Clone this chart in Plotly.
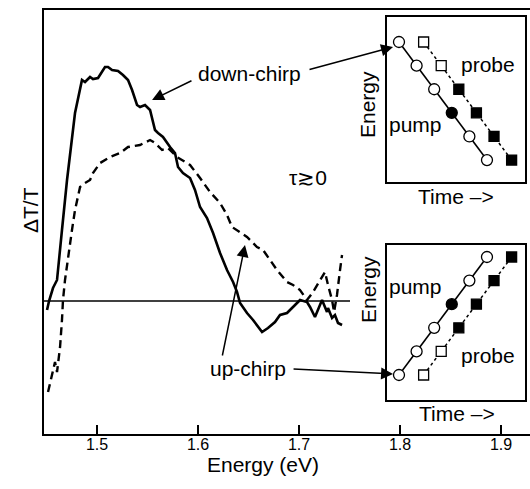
import plotly.graph_objects as go

# ---------------- data ----------------
down_E = [1.4505, 1.4525, 1.4564, 1.4604, 1.4653, 1.4703, 1.4782, 1.4851, 1.4881, 1.4931,
          1.4960, 1.5010, 1.5079, 1.5109, 1.5149, 1.5208, 1.5257, 1.5307, 1.5347, 1.5396,
          1.5426, 1.5475, 1.5525, 1.5574, 1.5604, 1.5653, 1.5723, 1.5772, 1.5802, 1.5851,
          1.5921, 1.5970, 1.6020, 1.6089, 1.6149, 1.6218, 1.6287, 1.6347, 1.6386, 1.6416,
          1.6485, 1.6545, 1.6634, 1.6693, 1.6762, 1.6812, 1.6881, 1.6941, 1.7010, 1.7079,
          1.7109, 1.7158, 1.7188, 1.7228, 1.7277, 1.7287, 1.7327, 1.7356, 1.7386, 1.7426]
down_dT = [-0.09, 0.00, 0.13, 0.21, 0.71, 1.21, 1.88, 2.21, 2.19, 2.24,
           2.22, 2.23, 2.34, 2.34, 2.31, 2.30, 2.26, 2.21, 2.11, 1.96,
           1.94, 1.96, 1.91, 1.71, 1.68, 1.64, 1.54, 1.48, 1.34, 1.28,
           1.23, 1.11, 0.94, 0.83, 0.68, 0.48, 0.31, 0.19, 0.09, -0.02,
           -0.12, -0.19, -0.31, -0.27, -0.21, -0.14, -0.12, -0.06, 0.01, -0.01,
           -0.06, -0.16, -0.09, 0.01, -0.11, -0.07, -0.17, -0.14, -0.22, -0.24]

up_E = [1.4515, 1.4535, 1.4564, 1.4584, 1.4604, 1.4634, 1.4653, 1.4663, 1.4683, 1.4713,
        1.4752, 1.4782, 1.4832, 1.4881, 1.4931, 1.4960, 1.5030, 1.5129, 1.5228, 1.5307,
        1.5426, 1.5525, 1.5574, 1.5644, 1.5703, 1.5792, 1.5921, 1.6020, 1.6119, 1.6218,
        1.6287, 1.6337, 1.6416, 1.6485, 1.6584, 1.6644, 1.6713, 1.6782, 1.6881, 1.6941,
        1.7010, 1.7079, 1.7139, 1.7208, 1.7257, 1.7287, 1.7327, 1.7347, 1.7376, 1.7406,
        1.7426]
up_dT = [-0.91, -0.82, -0.69, -0.61, -0.71, -0.46, -0.19, 0.01, 0.21, 0.44,
         0.71, 0.91, 1.14, 1.18, 1.21, 1.28, 1.38, 1.44, 1.48, 1.54,
         1.56, 1.61, 1.58, 1.51, 1.53, 1.44, 1.36, 1.23, 1.09, 0.98,
         0.86, 0.74, 0.69, 0.64, 0.54, 0.51, 0.41, 0.31, 0.19, 0.16,
         0.11, 0.01, 0.09, 0.21, 0.29, 0.16, 0.01, -0.11, 0.06, 0.31,
         0.46]

zero_E = [1.4475, 1.7505]
zero_dT = [0, 0]

x_ticks = [1.5, 1.6, 1.7, 1.8, 1.9]
x_ticklabels = ["1.5", "1.6", "1.7", "1.8", "1.9"]

# inset data (time index, energy level)
pump_t = [0, 1, 2, 3, 4, 5]
probe_t = [1.4, 2.4, 3.4, 4.4, 5.4, 6.4]
down_levels = [5, 4, 3, 2, 1, 0]
up_levels = [0, 1, 2, 3, 4, 5]
pump_fill = ["white", "white", "white", "black", "white", "white"]
probe_fill = ["white", "white", "black", "black", "black", "black"]

FONT = "Liberation Sans, Arial, sans-serif"

fig = go.Figure()

fig.add_trace(go.Scatter(x=zero_E, y=zero_dT, mode="lines",
                         line=dict(color="black", width=1.3), showlegend=False))
fig.add_trace(go.Scatter(x=up_E, y=up_dT, mode="lines",
                         line=dict(color="black", width=2.4, dash="8px,5px"), showlegend=False))
fig.add_trace(go.Scatter(x=down_E, y=down_dT, mode="lines",
                         line=dict(color="black", width=2.6), showlegend=False))

# insets
for xa, ya, levels in [("x2", "y2", down_levels), ("x3", "y3", up_levels)]:
    fig.add_trace(go.Scatter(x=probe_t, y=levels, xaxis=xa, yaxis=ya, mode="lines+markers",
                             line=dict(color="black", width=1.5, dash="dot"),
                             marker=dict(symbol="square", size=10, color=probe_fill,
                                         line=dict(color="black", width=1.3)),
                             showlegend=False))
    fig.add_trace(go.Scatter(x=pump_t, y=levels, xaxis=xa, yaxis=ya, mode="lines+markers",
                             line=dict(color="black", width=1.6),
                             marker=dict(symbol="circle", size=11, color=pump_fill,
                                         line=dict(color="black", width=1.3)),
                             showlegend=False))

inset_ax = dict(showline=True, mirror=True, linecolor="black", linewidth=1.8,
                showticklabels=False, ticks="", showgrid=False, zeroline=False)

fig.update_layout(
    width=530, height=489,
    margin=dict(l=44, r=0, t=10, b=55),
    paper_bgcolor="white", plot_bgcolor="white",
    font=dict(family=FONT, color="black"),
    xaxis=dict(range=[1.4475, 1.9287], tickvals=x_ticks, ticktext=x_ticklabels,
               ticks="inside", ticklen=9, tickwidth=1.5, tickcolor="black",
               showline=True, mirror=True, linecolor="black", linewidth=1.8,
               showgrid=False, zeroline=False, tickfont=dict(size=16),
               ticklabelstandoff=-5),
    yaxis=dict(range=[-1.33, 2.91], showline=True, linecolor="black", linewidth=1.8,
               showticklabels=False, ticks="", showgrid=False, zeroline=False),
    xaxis2=dict(domain=[0.7058, 0.9897], range=[-0.68, 7.16], anchor="y2", **inset_ax),
    yaxis2=dict(domain=[0.5943, 0.9835], range=[-0.93, 6.06], anchor="x2", **inset_ax),
    xaxis3=dict(domain=[0.7058, 0.9897], range=[-0.68, 7.16], anchor="y3", **inset_ax),
    yaxis3=dict(domain=[0.0802, 0.4458], range=[-1.06, 5.51], anchor="x3", **inset_ax),
)

ann_font = dict(family=FONT, size=21, color="black")
C = dict(xanchor="center", yanchor="middle", showarrow=False, font=ann_font)
annotations = [
    dict(text="Energy (eV)", x=0.4506, y=-0.072, xref="paper", yref="paper",
         **{**C, "font": dict(family=FONT, size=21, color="black")}),
    dict(text="ΔT/T", x=-0.029, y=0.528, xref="paper", yref="paper", textangle=-90, **C),
    dict(text="down-chirp", x=1.6505, y=2.28, xref="x", yref="y", **C),
    dict(text="τ≳0", x=1.7089, y=1.24, xref="x", yref="y", **C),
    dict(text="up-chirp", x=1.6495, y=-0.67, xref="x", yref="y", **C),
    # arrows
    dict(x=1.5545, y=2.01, ax=1.5950, ay=2.21, xref="x", yref="y", axref="x", ayref="y",
         text="", showarrow=True, arrowhead=2, arrowsize=1.6, arrowwidth=1.5, arrowcolor="black"),
    dict(x=1.7931, y=2.54, ax=1.7089, ay=2.31, xref="x", yref="y", axref="x", ayref="y",
         text="", showarrow=True, arrowhead=2, arrowsize=1.6, arrowwidth=1.5, arrowcolor="black"),
    dict(x=1.6465, y=0.56, ax=1.6238, ay=-0.56, xref="x", yref="y", axref="x", ayref="y",
         text="", showarrow=True, arrowhead=2, arrowsize=1.6, arrowwidth=1.5, arrowcolor="black"),
    dict(x=1.7931, y=-0.73, ax=1.6931, ay=-0.68, xref="x", yref="y", axref="x", ayref="y",
         text="", showarrow=True, arrowhead=2, arrowsize=1.6, arrowwidth=1.5, arrowcolor="black"),
    # inset labels
    dict(text="Energy", x=0.6667, y=0.776, xref="paper", yref="paper", textangle=-90, **C),
    dict(text="Energy", x=0.6667, y=0.3396, xref="paper", yref="paper", textangle=-90, **C),
    dict(text="Time –>", x=0.8477, y=0.559, xref="paper", yref="paper", **C),
    dict(text="Time –>", x=0.8498, y=0.0495, xref="paper", yref="paper", **C),
    dict(text="pump", x=0.7654, y=0.7288, xref="paper", yref="paper", **C),
    dict(text="probe", x=0.9136, y=0.8726, xref="paper", yref="paper", **C),
    dict(text="pump", x=0.7654, y=0.349, xref="paper", yref="paper", **C),
    dict(text="probe", x=0.9136, y=0.1863, xref="paper", yref="paper", **C),
]
fig.update_layout(annotations=annotations)

fig.write_html("out.html", config={"displayModeBar": False},
               post_script="document.body.style.margin='0';")
